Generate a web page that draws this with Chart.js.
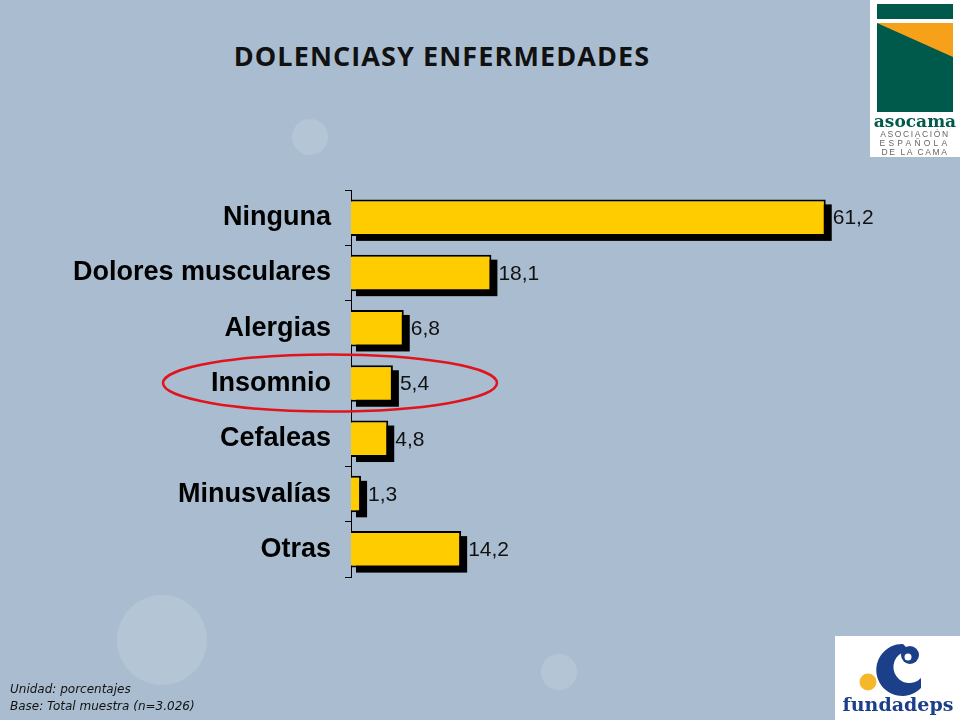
<!DOCTYPE html>
<html>
<head>
<meta charset="utf-8">
<script src="https://cdn.jsdelivr.net/npm/chart.js@4.4.1/dist/chart.umd.min.js"></script>
<style>
  html, body { margin: 0; padding: 0; }
  body { width: 960px; height: 720px; position: relative; overflow: hidden; background: #aabdd0; }
  #wrap { position: absolute; left: 0; top: 0; width: 960px; height: 720px; }
  .bubble { position: absolute; border-radius: 50%; background: rgba(255,255,255,0.12); }
  #title { position: absolute; left: 0; width: 884px; top: 37px; text-align: center;
    font: bold 27px "Open Sans", sans-serif; color: #111; letter-spacing: 1.1px; }
  #foot { position: absolute; left: 10px; top: 681px; font: italic 12px "DejaVu Sans", sans-serif; color: #111; line-height: 17px; }
  #overlay { position: absolute; left: 0; top: 0; pointer-events: none; }
</style>
</head>
<body>
<div class="bubble" style="left:292px;top:119px;width:36px;height:36px"></div>
<div class="bubble" style="left:117px;top:595px;width:90px;height:90px"></div>
<div class="bubble" style="left:541px;top:654px;width:36px;height:36px"></div>
<div id="title">DOLENCIASY ENFERMEDADES</div>
<div id="wrap"><canvas id="chart-bars" width="960" height="720"></canvas></div>
<div id="foot">Unidad: porcentajes<br>Base: Total muestra (n=3.026)</div>
<svg id="overlay" width="960" height="720">
  <ellipse cx="330" cy="383" rx="167" ry="28.5" fill="none" stroke="#e0141e" stroke-width="2.5"/>
  <!-- asocama logo -->
  <rect x="870" y="0" width="90" height="157" fill="#ffffff"/>
  <rect x="877" y="4" width="76" height="15" fill="#005a4b"/>
  <rect x="877" y="23" width="76" height="89" fill="#005a4b"/>
  <polygon points="877,23 953,23 953,57" fill="#f7a11a"/>
  <text x="915" y="127" text-anchor="middle" font-family="DejaVu Serif, serif" font-weight="bold" font-size="17" fill="#005a4b">asocama</text>
  <text x="915" y="137" text-anchor="middle" font-family="Liberation Sans, sans-serif" font-size="8.5" fill="#666" letter-spacing="1.6">ASOCIACIÓN</text>
  <text x="915" y="146" text-anchor="middle" font-family="Liberation Sans, sans-serif" font-size="8.5" fill="#666" letter-spacing="3.2">ESPAÑOLA</text>
  <text x="915" y="155" text-anchor="middle" font-family="Liberation Sans, sans-serif" font-size="8.5" fill="#666" letter-spacing="1.6">DE LA CAMA</text>
  <!-- fundadeps logo -->
  <rect x="835" y="636" width="125" height="84" fill="#ffffff"/>
  <path d="M903,644 A26,26 0 1 0 921,688 L921,678 A16,16 0 1 1 910,651 Z" fill="#1c3f8a"/>
  <circle cx="910" cy="655" r="9" fill="#1c3f8a"/>
  <circle cx="908" cy="657" r="3.5" fill="#ffffff"/>
  <circle cx="868" cy="682" r="8.5" fill="#f5b82a"/>
  <text x="898" y="711" text-anchor="middle" font-family="DejaVu Serif, serif" font-weight="bold" font-size="19" fill="#1c3f8a">fundadeps</text>
</svg>
<script>
// data
const categories = ["Ninguna", "Dolores musculares", "Alergias", "Insomnio", "Cefaleas", "Minusvalías", "Otras"];
const values = [61.2, 18.1, 6.8, 5.4, 4.8, 1.3, 14.2];

// black drop shadow behind each bar + value labels
const barExtras = {
  id: "barExtras",
  beforeDatasetsDraw(chart) {
    const ctx = chart.ctx;
    ctx.save();
    ctx.fillStyle = "#000";
    chart.getDatasetMeta(0).data.forEach(function (bar) {
      const left = Math.min(bar.base, bar.x);
      const w = Math.abs(bar.x - bar.base);
      ctx.fillRect(left + 5, bar.y - bar.height / 2 + 5, w + 1, bar.height);
    });
    ctx.restore();
  },
  afterDatasetsDraw(chart) {
    const ctx = chart.ctx;
    ctx.save();
    ctx.fillStyle = "#111";
    ctx.font = "21px 'Liberation Sans', Arial, sans-serif";
    ctx.textAlign = "left";
    ctx.textBaseline = "middle";
    chart.getDatasetMeta(0).data.forEach(function (bar, i) {
      ctx.fillText(values[i].toFixed(1).replace(".", ","), bar.x + 7, bar.y + 1);
    });
    ctx.restore();
  }
};

var ctx = document.getElementById("chart-bars").getContext("2d");
new Chart(ctx, {
  type: "bar",
  data: {
    labels: categories,
    datasets: [{
      data: values,
      backgroundColor: "#ffcc00",
      borderColor: "#000",
      borderWidth: 2,
      borderSkipped: "start",
      barPercentage: 0.66,
      categoryPercentage: 1
    }]
  },
  options: {
    indexAxis: "y",
    responsive: false,
    animation: false,
    layout: { padding: { top: 190, bottom: 143, right: 66, left: 0 } },
    plugins: { legend: { display: false }, tooltip: { enabled: false } },
    scales: {
      x: { display: false, min: 0, max: 70 },
      y: {
        afterFit(scale) { scale.width = 351; },
        border: { display: true, color: "#000", width: 1 },
        grid: { offset: true, drawOnChartArea: false, drawTicks: true, tickLength: 6, color: "#000" },
        ticks: {
          padding: 14,
          color: "#000",
          font: { size: 27, weight: "bold", family: "'Liberation Sans', Arial, sans-serif" }
        }
      }
    }
  },
  plugins: [barExtras]
});
</script>
</body>
</html>
